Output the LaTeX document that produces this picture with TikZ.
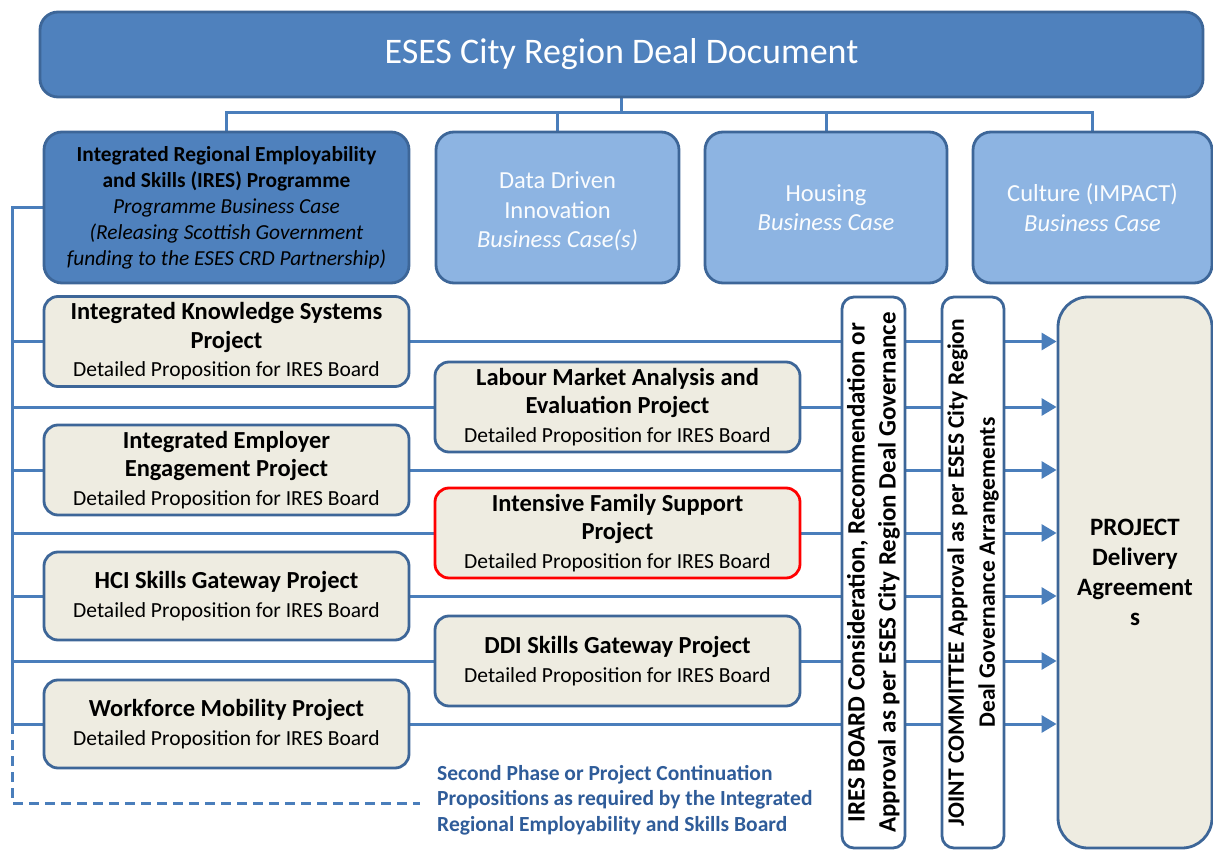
\documentclass[tikz,border=0pt]{standalone}
\usepackage{fontspec}
\setmainfont{Carlito}
\usetikzlibrary{arrows.meta,backgrounds}

\definecolor{docblue}{HTML}{4F81BD}
\definecolor{caseblue}{HTML}{8DB4E2}
\definecolor{rimblue}{HTML}{3D6698}
\definecolor{wireblue}{HTML}{4A7EBB}
\definecolor{projcream}{HTML}{EEECE1}
\definecolor{notered}{HTML}{FF0000}
\definecolor{noteblue}{HTML}{2F5C99}

\begin{document}
\begin{tikzpicture}[x=1pt,y=-1pt,
	every node/.style={align=center, inner sep=0pt},
	box/.style={draw=rimblue, line width=2.8pt, rounded corners=18pt},
	docbox/.style={box, fill=docblue, text=white, minimum width=1163pt, minimum height=85pt, font=\fontsize{36}{40}\selectfont},
	progbox/.style={box, fill=docblue, minimum width=365pt, minimum height=151pt, font=\fontsize{21.4}{26}\selectfont},
	casebox/.style={box, fill=caseblue, text=white!96!caseblue, minimum height=151pt, font=\fontsize{24.5}{29.5}\selectfont},
	projbox/.style={box, fill=projcream, rounded corners=14pt, minimum width=365pt, minimum height=90pt, font=\fontsize{21.5}{28.5}\selectfont},
	boardbox/.style={box, fill=white, rounded corners=12pt, rotate=90, minimum width=551pt, minimum height=63pt, font=\fontsize{25}{31}\selectfont\bfseries},
	wire/.style={draw=wireblue, line width=3pt},
	tip/.style={-{Triangle[length=15pt,width=17pt]}}
]
	\useasboundingbox (0,0) rectangle (1213,850);

	\node[docbox] (doc) at (621.5,54.5) {ESES City Region Deal Document};

	\node[progbox] (ires) at (226.5,207.5) {\textbf{Integrated Regional Employability}\\\textbf{and Skills (IRES) Programme}\\\textit{Programme Business Case}\\\textit{(Releasing Scottish Government}\\\textit{funding to the ESES CRD Partnership)}};
	\node[casebox, minimum width=243pt] (ddinn) at (557.5,207.5) {\\[-5pt]Data Driven\\Innovation\\\textit{Business Case(s)}};
	\node[casebox, minimum width=242pt] (housing) at (826,207.5) {Housing\\\textit{Business Case}};
	\node[casebox, minimum width=239pt] (culture) at (1092.5,207.5) {Culture (IMPACT)\\\textit{Business Case}};

	\node[projbox] (iks) at (226.5,341.5) {{\fontsize{24.5}{29}\selectfont\bfseries Integrated Knowledge Systems}\\{\fontsize{24.5}{29}\selectfont\bfseries Project}\\Detailed Proposition for IRES Board};
	\node[projbox] (lma) at (617.5,407) {{\fontsize{24.5}{29}\selectfont\bfseries Labour Market Analysis and}\\{\fontsize{24.5}{29}\selectfont\bfseries Evaluation Project}\\Detailed Proposition for IRES Board};
	\node[projbox] (iee) at (226.5,470) {{\fontsize{24.5}{29}\selectfont\bfseries Integrated Employer}\\{\fontsize{24.5}{29}\selectfont\bfseries Engagement Project}\\Detailed Proposition for IRES Board};
	\node[projbox, draw=notered] (ifs) at (617.5,533) {{\fontsize{24.5}{29}\selectfont\bfseries Intensive Family Support}\\{\fontsize{24.5}{29}\selectfont\bfseries Project}\\Detailed Proposition for IRES Board};
	\node[projbox, minimum height=88pt] (hci) at (226.5,596) {{\fontsize{24.5}{29}\selectfont\bfseries HCI Skills Gateway Project}\\Detailed Proposition for IRES Board};
	\node[projbox] (ddi) at (617.5,661) {{\fontsize{24.5}{29}\selectfont\bfseries DDI Skills Gateway Project}\\Detailed Proposition for IRES Board};
	\node[projbox, minimum height=88pt] (wfm) at (226.5,724) {{\fontsize{24.5}{29}\selectfont\bfseries Workforce Mobility Project}\\Detailed Proposition for IRES Board};

	\node[boardbox] (board) at (873.5,572.5) {IRES BOARD Consideration, Recommendation or\\Approval as per ESES City Region Deal Governance};
	\node[boardbox, minimum height=62pt, font=\fontsize{23.5}{31}\selectfont\bfseries] (joint) at (973,572.5) {JOINT COMMITTEE\ Approval as per ESES City Region\\Deal Governance Arrangements};
	\node[box, fill=projcream, rounded corners=30pt, minimum width=154pt, minimum height=551pt, font=\fontsize{25}{30}\selectfont\bfseries] (pda) at (1135,572.5) {PROJECT\\Delivery\\Agreement\\s};

	\node[anchor=north west, align=left, text=noteblue, font=\fontsize{21.5}{25.5}\selectfont\bfseries] (note) at (437,765) {Second Phase or Project Continuation\\Propositions as required by the Integrated\\Regional Employability and Skills Board};

	\coordinate (hub) at (621.5,113);
	\coordinate (spinetop) at (12,207.5);
	\coordinate (loopend) at (420,803);

	\begin{scope}[on background layer]
		\draw[wire] (doc.south) -- (hub);
		\draw[wire] (ires.north) |- (culture.north |- hub) -- (culture.north);
		\draw[wire] (ddinn.north) -- (ddinn.north |- hub);
		\draw[wire] (housing.north) -- (housing.north |- hub);
		\draw[wire] (ires.west) -- (spinetop) -- (spinetop |- wfm.west);
		\draw[wire, dashed, dash pattern=on 10pt off 6pt] (spinetop |- wfm.west) |- (loopend);
		\foreach \n in {iks,lma,iee,ifs,hci,ddi,wfm}
			\draw[wire, tip] (spinetop |- \n.west) -- (pda.west |- \n.west);
	\end{scope}
\end{tikzpicture}
\end{document}
